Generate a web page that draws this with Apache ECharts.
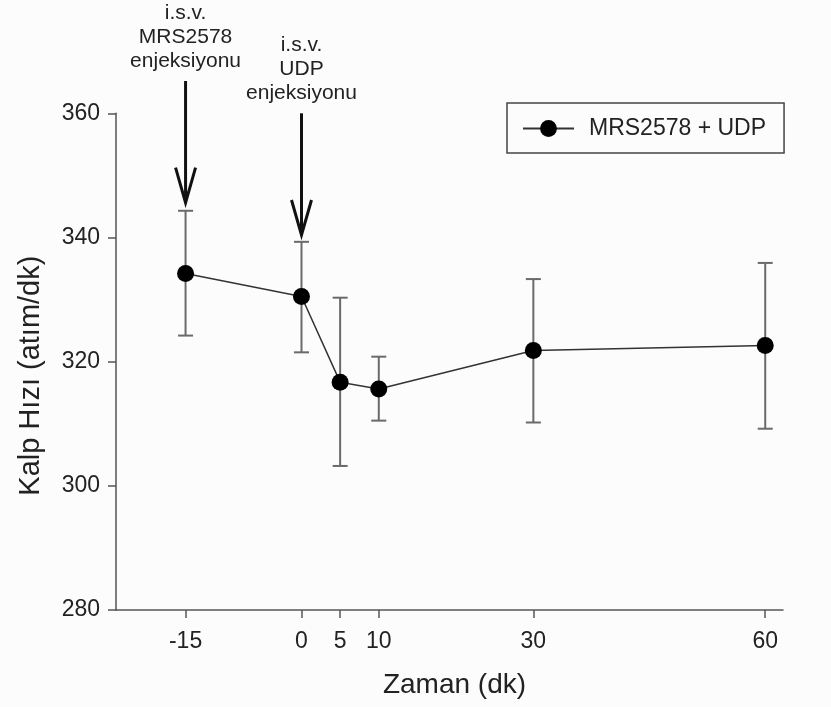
<!DOCTYPE html>
<html>
<head>
<meta charset="utf-8">
<script src="https://cdn.jsdelivr.net/npm/echarts@6/dist/echarts.min.js"></script>
<style>
  html, body { margin: 0; padding: 0; background: #fcfcfc; }
  #chart { width: 831px; height: 707px; }
</style>
</head>
<body>
<div id="chart"></div>
<script>
// Heart rate over time after MRS2578 and UDP injections (mean ± error)
const times = [-15, 0, 5, 10, 30, 60];
const heartRate = [334.2, 330.5, 316.7, 315.6, 321.8, 322.6];
const errorHigh = [344.3, 339.3, 330.3, 320.8, 333.3, 335.9];
const errorLow = [324.2, 321.5, 303.2, 310.5, 310.2, 309.2];
const xTicks = [-15, 0, 5, 10, 30, 60];
const seriesName = 'MRS2578 + UDP';

// Injection markers: time, arrow start/end (in heart-rate units) and caption
const injectionTimes = [-15, 0];
const arrowTop = [365.2, 360.0];
const arrowTip = [345.6, 340.4];
const injectionLabels = ['i.s.v.\nMRS2578\nenjeksiyonu', 'i.s.v.\nUDP\nenjeksiyonu'];

const FONT = '"Liberation Sans", Arial, sans-serif';
const INK = '#222';
const AXIS = '#555';

const chart = echarts.init(document.getElementById('chart'), null, { renderer: 'canvas' });

const lineData = times.map((t, i) => [t, heartRate[i]]);
const errData = times.map((t, i) => [t, errorHigh[i], errorLow[i]]);
const arrowData = injectionTimes.map((t, i) => [t, arrowTop[i], arrowTip[i]]);

chart.setOption({
  backgroundColor: '#fcfcfc',
  animation: false,
  grid: { left: 116, right: 48, top: 113.3, bottom: 97, containLabel: false },
  legend: {
    left: 507,
    top: 103,
    data: [seriesName],
    borderColor: '#444',
    borderWidth: 1.5,
    borderRadius: 0,
    padding: [14, 18, 13, 15],
    itemWidth: 51,
    itemHeight: 21,
    textStyle: { fontFamily: FONT, fontSize: 23, color: INK, padding: [0, 0, 0, 10] }
  },
  xAxis: {
    type: 'value',
    min: -24,
    max: 62.3,
    name: 'Zaman (dk)',
    nameLocation: 'middle',
    nameGap: 61,
    nameTextStyle: { fontFamily: FONT, fontSize: 28, color: INK, padding: [0, 0, 0, 10] },
    axisLine: { show: true, onZero: false, lineStyle: { color: AXIS, width: 1.5 } },
    axisTick: { show: true, customValues: xTicks, length: 8, lineStyle: { color: AXIS, width: 1.5 } },
    axisLabel: { customValues: xTicks, fontFamily: FONT, fontSize: 23, color: INK, margin: 20 },
    splitLine: { show: false }
  },
  yAxis: {
    type: 'value',
    min: 280,
    max: 360,
    interval: 20,
    name: 'Kalp Hızı (atım/dk)',
    nameLocation: 'middle',
    nameRotate: 90,
    nameGap: 71,
    nameTextStyle: { fontFamily: FONT, fontSize: 29, color: INK, padding: [0, 28, 0, 0] },
    axisLine: { show: true, onZero: false, lineStyle: { color: AXIS, width: 1.5 } },
    axisTick: { show: true, length: 8, lineStyle: { color: AXIS, width: 1.5 } },
    axisLabel: { fontFamily: FONT, fontSize: 23, color: INK, margin: 16 },
    splitLine: { show: false }
  },
  series: [
    {
      // error bars with caps
      type: 'custom',
      name: 'err',
      z: 2,
      silent: true,
      data: errData,
      renderItem: function (params, api) {
        const x = api.value(0);
        const top = api.coord([x, api.value(1)]);
        const bot = api.coord([x, api.value(2)]);
        const w = 7.5;
        const style = { stroke: '#6a6a6a', lineWidth: 2 };
        return {
          type: 'group',
          children: [
            { type: 'line', shape: { x1: top[0], y1: top[1], x2: bot[0], y2: bot[1] }, style },
            { type: 'line', shape: { x1: top[0] - w, y1: top[1], x2: top[0] + w, y2: top[1] }, style },
            { type: 'line', shape: { x1: bot[0] - w, y1: bot[1], x2: bot[0] + w, y2: bot[1] }, style }
          ]
        };
      }
    },
    {
      type: 'line',
      name: seriesName,
      z: 3,
      data: lineData,
      symbol: 'circle',
      symbolSize: 17,
      itemStyle: { color: '#000' },
      lineStyle: { color: '#333', width: 1.5 }
    },
    {
      // injection arrows and their captions
      type: 'custom',
      name: 'injections',
      z: 4,
      silent: true,
      clip: false,
      data: arrowData,
      renderItem: function (params, api) {
        const x = api.value(0);
        const top = api.coord([x, api.value(1)]);
        const tip = api.coord([x, api.value(2)]);
        const label = injectionLabels[params.dataIndex];
        const hw = 10, hh = 35;
        const style = { stroke: '#111', lineWidth: 3, lineJoin: 'miter', fill: null };
        return {
          type: 'group',
          children: [
            { type: 'line', shape: { x1: top[0], y1: top[1], x2: tip[0], y2: tip[1] }, style },
            { type: 'polyline', shape: { points: [[tip[0] - hw, tip[1] - hh], [tip[0], tip[1]], [tip[0] + hw, tip[1] - hh]] }, style },
            {
              type: 'text',
              x: top[0],
              y: top[1] - 8,
              style: {
                text: label,
                fontFamily: FONT,
                fontSize: 21,
                lineHeight: 24,
                fill: INK,
                align: 'center',
                verticalAlign: 'bottom'
              }
            }
          ]
        };
      }
    }
  ]
});
</script>
</body>
</html>
